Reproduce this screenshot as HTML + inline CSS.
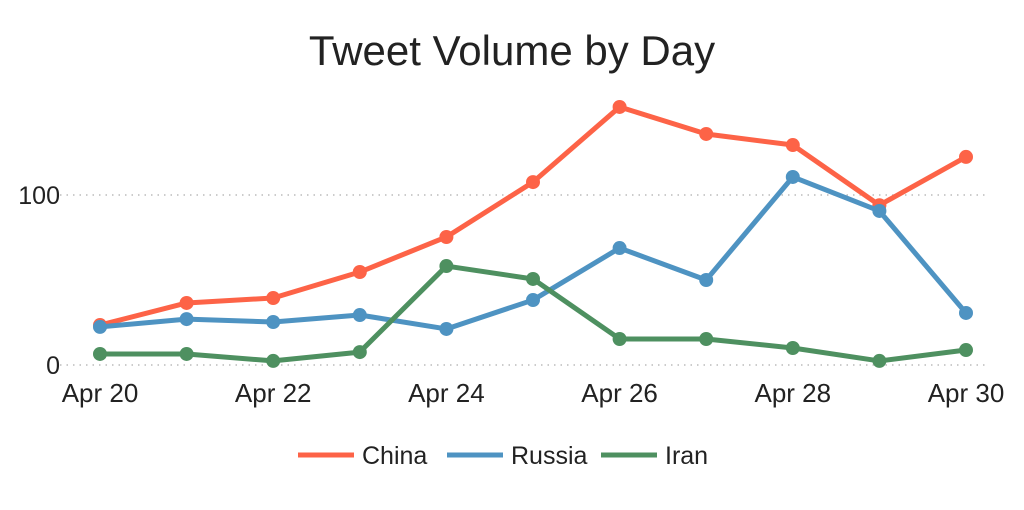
<!DOCTYPE html>
<html><head><meta charset="utf-8"><style>
body{margin:0;background:#fff;font-family:"Liberation Sans",sans-serif;}
svg{display:block}
</style></head><body>
<svg id="chart" width="1024" height="510">
<text x="512" y="65" text-anchor="middle" font-size="42" fill="#222">Tweet Volume by Day</text>
<g id="grid"></g><g id="series"></g><g id="xaxis"></g><g id="legend"></g>
</svg>
<script>
const categories=["Apr 20","Apr 21","Apr 22","Apr 23","Apr 24","Apr 25","Apr 26","Apr 27","Apr 28","Apr 29","Apr 30"];
const china=[23.5,36.5,39.4,54.7,75.3,107.6,151.8,135.9,129.4,94,122.4];
const russia=[22.4,27,25.3,29.4,21.2,38.2,68.8,50,110.6,90.6,30.6];
const iran=[6.5,6.5,2.4,7.6,58.2,50.6,15.3,15.3,10,2.4,8.8];
const yTicks=[0,100];
const xTickLabels=["Apr 20","Apr 22","Apr 24","Apr 26","Apr 28","Apr 30"];
const seriesNames=["China","Russia","Iran"];
const colors=["#fd6347","#4e93c2","#4e9060"];
const NS="http://www.w3.org/2000/svg";
const x=i=>100+i*86.6;
const y=v=>365-v*1.7;
function mk(t,a,p){const e=document.createElementNS(NS,t);for(const k in a)e.setAttribute(k,a[k]);p.appendChild(e);return e;}
const grid=document.getElementById('grid');
yTicks.forEach(v=>{
 const l=mk('line',{x1:60,x2:985,y1:y(v),y2:y(v),stroke:'#bbb','stroke-dasharray':'1.5 5','stroke-width':1.5},grid);
 
 
 const t=mk('text',{x:60,y:y(v)+9,'text-anchor':'end','font-size':25,fill:'#222'},grid);
 t.textContent=v;
 
 
});
const xa=document.getElementById('xaxis');
xTickLabels.forEach(lbl=>{
 const i=categories.indexOf(lbl);
 const t=mk('text',{x:x(i),y:402,'text-anchor':'middle','font-size':26,fill:'#222'},xa);
 t.textContent=lbl;
 
 
});
const sg=document.getElementById('series');
[china,russia,iran].forEach((d,s)=>{
 const g=mk('g',{},sg);
 
 
 const p=mk('polyline',{points:d.map((v,i)=>x(i)+','+y(v)).join(' '),fill:'none',stroke:colors[s],'stroke-width':5,'stroke-linejoin':'round'},g);
 
 
 d.forEach((v,i)=>{
  const c=mk('circle',{cx:x(i),cy:y(v),r:7,fill:colors[s]},g);
  
  
 });
});
const lg=document.getElementById('legend');
const lx=[298,447,601];
seriesNames.forEach((n,s)=>{
 const g=mk('g',{},lg);
 
 
 mk('line',{x1:lx[s],x2:lx[s]+56,y1:455,y2:455,stroke:colors[s],'stroke-width':5},g);
 const t=mk('text',{x:lx[s]+64,y:464,'font-size':25,fill:'#222'},g);
 t.textContent=n;
});
</script>
</body></html>
